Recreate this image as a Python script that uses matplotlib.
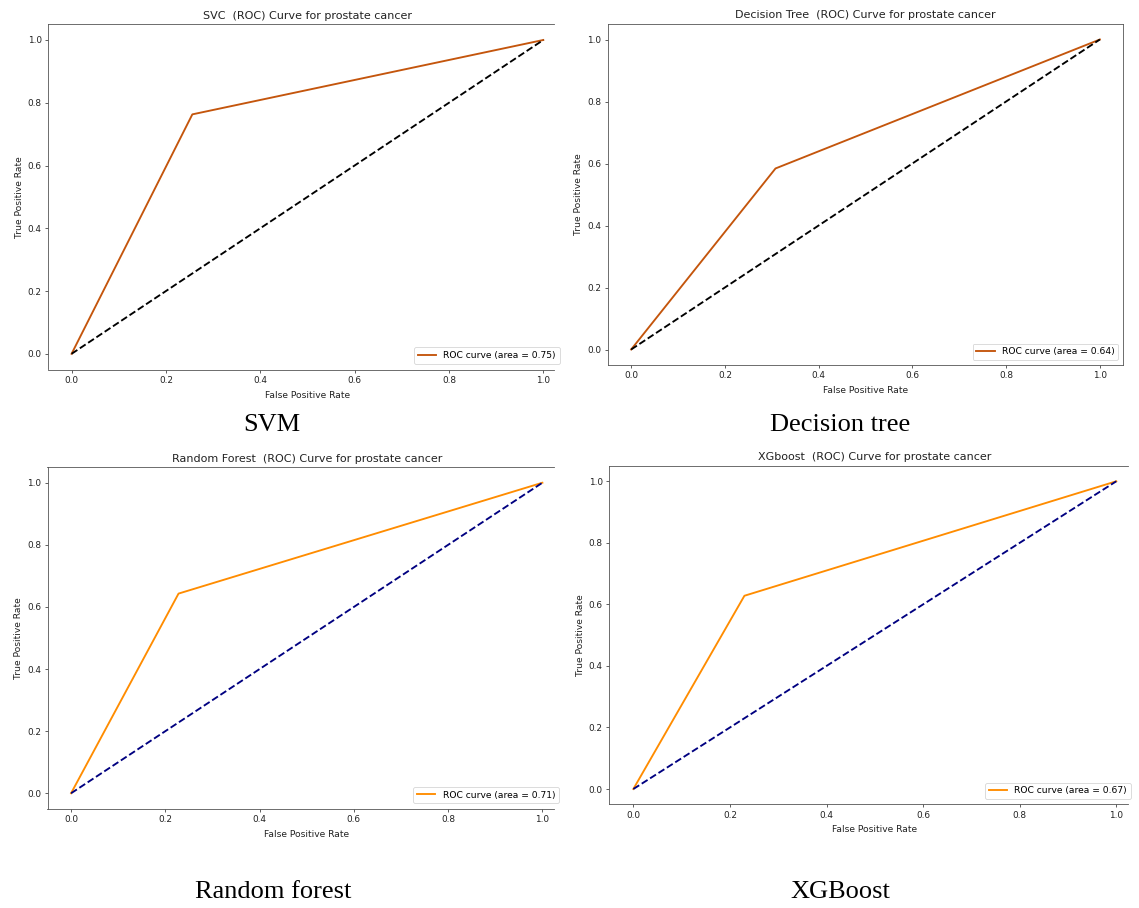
import matplotlib
matplotlib.use("Agg")
import matplotlib.pyplot as plt

# ---------------- data ----------------
model_titles = ["SVC", "Decision Tree", "Random Forest", "XGboost"]
captions = ["SVM", "Decision tree", "Random forest", "XGBoost"]
auc_values = [0.75, 0.64, 0.71, 0.67]

fpr_svc = [0.0, 0.256, 1.0]
tpr_svc = [0.0, 0.763, 1.0]
fpr_dt = [0.0, 0.308, 1.0]
tpr_dt = [0.0, 0.584, 1.0]
fpr_rf = [0.0, 0.228, 1.0]
tpr_rf = [0.0, 0.643, 1.0]
fpr_xgb = [0.0, 0.23, 1.0]
tpr_xgb = [0.0, 0.628, 1.0]

diag = [0.0, 1.0]
ticks = [0.0, 0.2, 0.4, 0.6, 0.8, 1.0]

# ---------------- layout ----------------
W, H = 1139, 908
fig = plt.figure(figsize=(W / 100, H / 100), dpi=100)
fig.patch.set_facecolor("white")

# (left, right, top, bottom) in pixels, xmax (crop), legend (left px, bottom px) or None
panels = [
    dict(box=(48, 554, 24.3, 369.5), xmax=1.0227, leg=(414, 363.7),
         fpr=fpr_svc, tpr=tpr_svc, c="#c4550c", dc="black"),
    dict(box=(607.7, 1123.3, 24, 365), xmax=1.05, leg=None,
         fpr=fpr_dt, tpr=tpr_dt, c="#c4550c", dc="black"),
    dict(box=(47.5, 554, 467.2, 808.8), xmax=1.0246, leg=(413.2, 803.3),
         fpr=fpr_rf, tpr=tpr_rf, c="darkorange", dc="navy"),
    dict(box=(609.2, 1127.7, 465.9, 804.4), xmax=1.0236, leg=(985, 799),
         fpr=fpr_xgb, tpr=tpr_xgb, c="darkorange", dc="navy"),
]

caption_pos = [(272, 425), (840, 425), (273, 892), (840, 892)]

spine_col = "#555555"
lab_fs = 6.6
tick_fs = 6.4
title_fs = 8.0
lw = 1.35

for i, p in enumerate(panels):
    l, r, t, b = p["box"]
    ax = fig.add_axes([l / W, 1 - b / H, (r - l) / W, (b - t) / H])
    ax.plot(p["fpr"], p["tpr"], color=p["c"], lw=lw,
            label="ROC curve (area = %0.2f)" % auc_values[i])
    ax.plot(diag, diag, color=p["dc"], lw=lw, linestyle="--")
    ax.set_xlim(-0.05, p["xmax"])
    ax.set_ylim(-0.05, 1.05)
    ax.set_xticks(ticks)
    ax.set_yticks(ticks)
    ax.tick_params(labelsize=tick_fs, length=2.3, width=0.55, pad=2.3,
                   colors="#333333", labelcolor="#222222")
    for s in ax.spines.values():
        s.set_color(spine_col)
        s.set_linewidth(0.6)
    if p["xmax"] < 1.05:
        ax.spines["right"].set_visible(False)
    # keep title / xlabel centred on the full (uncropped) axes
    cx = 0.55 / (p["xmax"] + 0.05)
    ax.set_title("%s  (ROC) Curve for prostate cancer" % model_titles[i],
                 fontsize=title_fs, pad=4, x=cx, color="#222222")
    ax.set_xlabel("False Positive Rate", fontsize=lab_fs, labelpad=2.7,
                  color="#222222")
    ax.xaxis.set_label_coords(cx, -0.062)
    ax.set_ylabel("True Positive Rate", fontsize=lab_fs, labelpad=2.7,
                  color="#222222")
    if p["leg"] is None:
        leg = ax.legend(loc="lower right", fontsize=lab_fs,
                        borderaxespad=0.55, handlelength=2.0)
    else:
        lx, by = p["leg"]
        fx = (lx - l) / (r - l)
        fy = (b - by) / (b - t)
        leg = ax.legend(loc="lower left", bbox_to_anchor=(fx, fy),
                        fontsize=lab_fs, borderaxespad=0, handlelength=2.0)
    leg.get_frame().set_linewidth(0.6)

for (x, y), txt in zip(caption_pos, captions):
    fig.text(x / W, 1 - y / H, txt, ha="center", va="center",
             fontsize=19, family=["Liberation Serif", "DejaVu Serif"],
             color="black")

fig.savefig("out.png", dpi=100, facecolor="white")
